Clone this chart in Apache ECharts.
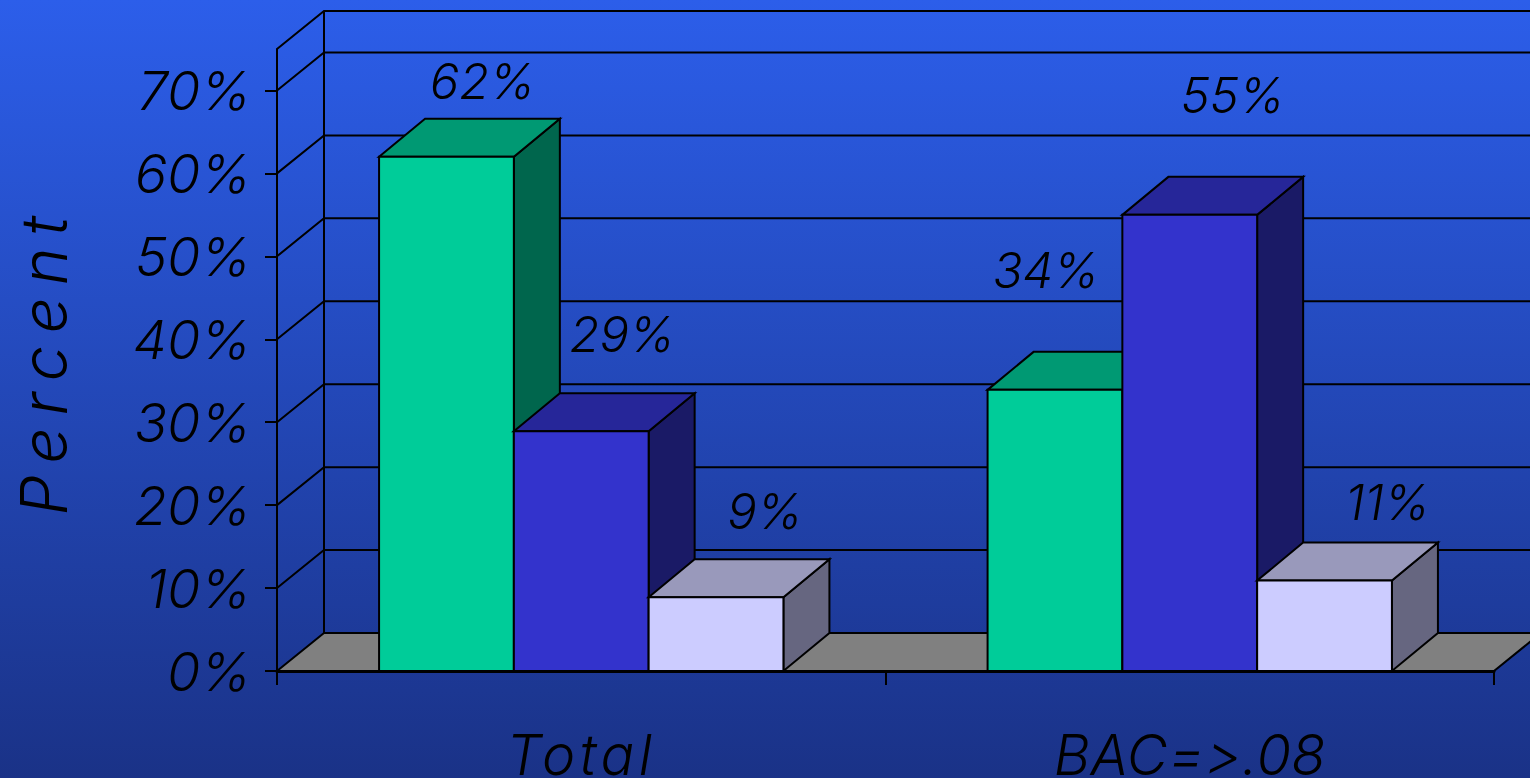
<!DOCTYPE html>
<html><head><meta charset="utf-8">
<style>html,body{margin:0;padding:0;background:#1a3287;overflow:hidden}#c{width:1530px;height:778px}
#c svg text{font-variant-ligatures:none;font-feature-settings:"calt" 0,"liga" 0}</style>
<script src="https://cdn.jsdelivr.net/npm/echarts@6/dist/echarts.min.js"></script>
</head><body><div id="c"></div>
<script>
const categories = ['Total', 'BAC=>.08'];
const greenValues = [62, 33.9];
const blueValues = [28.9, 55];
const paleValues = [8.9, 10.9];
const greenLabels = ['62%', '34%'];
const blueLabels = ['29%', '55%'];
const paleLabels = ['9%', '11%'];
const yTicks = [0, 10, 20, 30, 40, 50, 60, 70];
const yTop = 75;

// layout and style (not data)
const DX = 47, DY = -38, BAR_DX = 46, BAR_RATIO = 0.2215;
const FONT = 'Inter';
const greenStyle = {front:'#00CC99', top:'#009973', side:'#00664D', slot:-1, labelOff:[[36,-75],[-9,-119]]};
const blueStyle = {front:'#3333CC', top:'#262699', side:'#1A1A66', slot:0, labelOff:[[41,-97],[43,-119]]};
const paleStyle = {front:'#CCCCFF', top:'#9999BB', side:'#666680', slot:1, labelOff:[[49,-86],[63,-78]]};
const spacing = {'Percent':'12px', 'Total':'4.5px', 'BAC=>.08':'0.3px'};

function poly(points, fill, lw) {
  return {type:'polygon', shape:{points}, style:{fill, stroke:'#000', lineWidth:lw, lineJoin:'miter'}};
}
function line(points, lw) {
  return {type:'polyline', shape:{points}, style:{fill:null, stroke:'#000', lineWidth:lw}};
}

function barSeries(name, values, labels, st) {
  return {
    type:'custom', name, z:3, silent:true,
    data: values.map((v,i)=>[i,v]),
    renderItem(params, api) {
      const i = api.value(0), v = api.value(1);
      const band = api.size([1,0])[0], w = band*BAR_RATIO;
      const c = api.coord([i,0])[0] + st.slot*w;
      const y0 = api.coord([i,0])[1], y1 = api.coord([i,v])[1];
      const l = c-w/2, r = c+w/2;
      const off = st.labelOff[i];
      return {type:'group', children:[
        poly([[r,y1],[r+BAR_DX,y1+DY],[r+BAR_DX,y0+DY],[r,y0]], st.side, 2),
        poly([[l,y1],[l+BAR_DX,y1+DY],[r+BAR_DX,y1+DY],[r,y1]], st.top, 2),
        poly([[l,y1],[r,y1],[r,y0],[l,y0]], st.front, 2),
        {type:'text', z2:10, style:{x:c+off[0], y:y1+off[1], text:labels[i], fill:'#000',
          font:'italic 300 49px "'+FONT+'"', textAlign:'center', textVerticalAlign:'middle'}}
      ]};
    }
  };
}

const wallSeries = {
  type:'custom', name:'walls', z:1, silent:true,
  data: yTicks.concat([yTop]).map(v=>[0,v]),
  renderItem(params, api) {
    const cs = params.coordSys, v = api.value(1);
    const x0 = cs.x, x1 = cs.x+cs.width;
    const y = api.coord([0,v])[1];
    const kids = [];
    if (v===0) kids.push(poly([[x0,y],[x0+DX,y+DY],[x1+DX,y+DY],[x1,y]], '#808080', 2));
    if (v===yTop) {
      const yb = api.coord([0,0])[1];
      kids.push(line([[x0+DX,yb+DY],[x0+DX,y+DY]], 2));
    }
    if (v!==0) kids.push(line([[x0,y],[x0+DX,y+DY],[x1+DX,y+DY]], 2));
    return {type:'group', children:kids};
  }
};

const chart = echarts.init(document.getElementById('c'), null, {renderer:'svg'});
function applySpacing() {
  document.querySelectorAll('#c svg text').forEach(t => {
    const s = spacing[t.textContent];
    if (s) t.style.letterSpacing = s;
  });
}
chart.on('finished', applySpacing);
chart.setOption({
  animation:false,
  backgroundColor:{type:'linear', x:0, y:0, x2:0, y2:1, colorStops:[
    {offset:0, color:'#2C5EEA'},{offset:1, color:'#1A3287'}]},
  grid:{left:277, right:36, top:49, bottom:107, outerBoundsMode:'none'},
  xAxis:{type:'category', data:categories, z:5,
    axisLine:{show:true, lineStyle:{color:'#000', width:3}},
    axisTick:{show:true, length:14, lineStyle:{color:'#000', width:2}},
    axisLabel:{color:'#000', fontFamily:FONT, fontStyle:'italic', fontWeight:300, fontSize:56, margin:56, interval:0},
    splitLine:{show:false}},
  yAxis:{type:'value', min:0, max:yTop, z:5,
    name:'Percent', nameLocation:'middle', nameRotate:90, nameGap:202,
    nameTextStyle:{color:'#000', fontFamily:FONT, fontStyle:'italic', fontWeight:300, fontSize:64},
    axisLine:{show:true, lineStyle:{color:'#000', width:2}},
    axisTick:{show:true, length:12, customValues:yTicks, lineStyle:{color:'#000', width:2}},
    axisLabel:{color:'#000', fontFamily:FONT, fontStyle:'italic', fontWeight:300, fontSize:54, margin:26,
      padding:[6,0,0,0], customValues:yTicks, formatter:v=>v+'%'},
    splitLine:{show:false}},
  series:[
    wallSeries,
    barSeries('Green', greenValues, greenLabels, greenStyle),
    barSeries('Blue', blueValues, blueLabels, blueStyle),
    barSeries('Pale', paleValues, paleLabels, paleStyle)
  ]
});
applySpacing();
</script></body></html>
